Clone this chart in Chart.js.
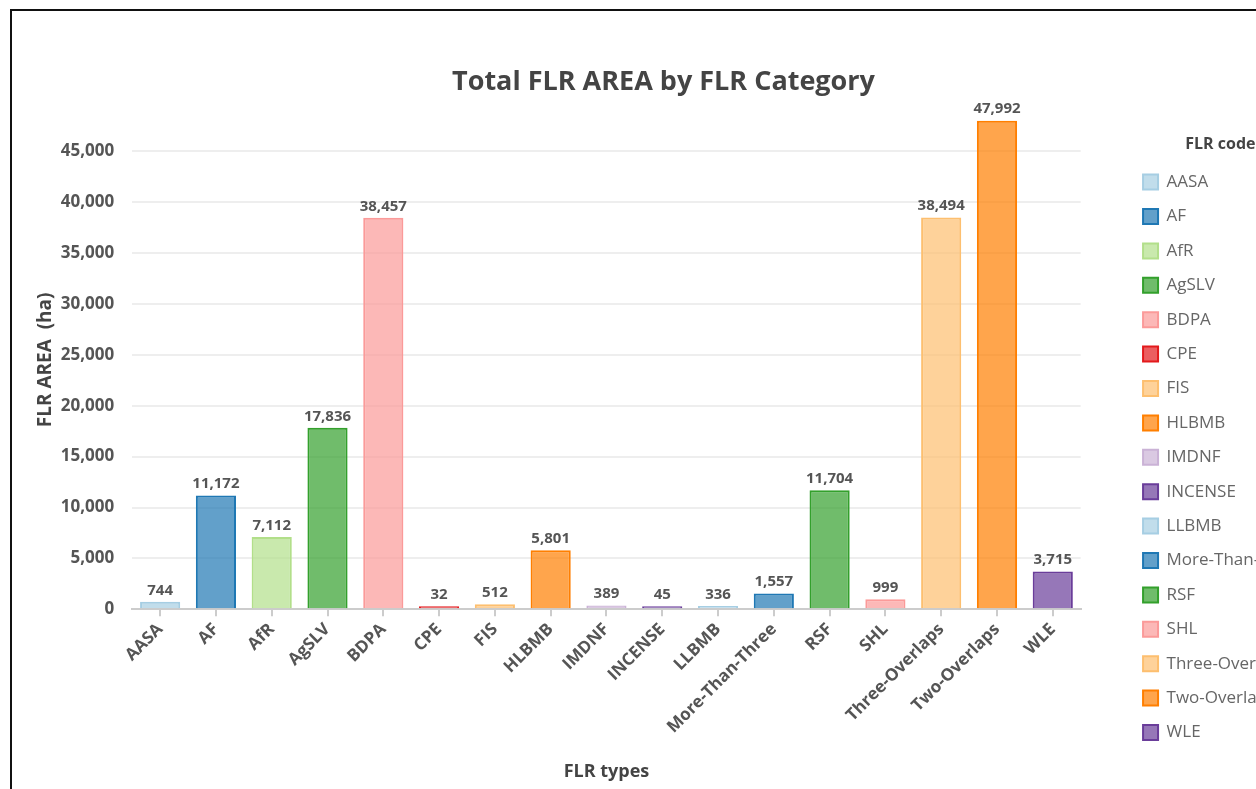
<!DOCTYPE html>
<html>
<head>
<meta charset="utf-8">
<script src="https://cdn.jsdelivr.net/npm/chart.js@4.4.1/dist/chart.umd.min.js"></script>
<style>
  html, body { margin: 0; padding: 0; background: #fff; overflow: hidden; }
  #frame { position: absolute; left: 10px; top: 9px; border: 2px solid #111; width: 1303px; height: 810px; }
  #frame canvas { display: block; }
</style>
</head>
<body>
<div id="frame"><canvas id="flrChart" width="1303" height="776"></canvas></div>
<script>
const categorias = ['AASA', 'AF', 'AfR', 'AgSLV', 'BDPA', 'CPE', 'FIS', 'HLBMB', 'IMDNF', 'INCENSE',
    'LLBMB', 'More-Than-Three', 'RSF', 'SHL', 'Three-Overlaps', 'Two-Overlaps', 'WLE'];
const areas = [744, 11172, 7112, 17836, 38457, 32, 512, 5801, 389, 45,
    336, 1557, 11704, 999, 38494, 47992, 3715];
const colores = ['#a6cee3', '#1f78b4', '#b2df8a', '#33a02c', '#fb9a99', '#e31a1c', '#fdbf6f', '#ff7f00', '#cab2d6', '#6a3d9a',
    '#a6cee3', '#1f78b4', '#33a02c', '#fb9a99', '#fdbf6f', '#ff7f00', '#6a3d9a'];
const yTicks = [0, 5000, 10000, 15000, 20000, 25000, 30000, 35000, 40000, 45000];

function alpha(hex, a) {
    const n = parseInt(hex.slice(1), 16);
    return 'rgba(' + (n >> 16) + ',' + ((n >> 8) & 255) + ',' + (n & 255) + ',' + a + ')';
}

Chart.defaults.font.family = "'Open Sans', sans-serif";

// numbers above each bar
const valueLabels = {
    id: 'valueLabels',
    afterDatasetsDraw(chart) {
        const ctx = chart.ctx;
        const meta = chart.getDatasetMeta(0);
        ctx.save();
        ctx.font = "bold 15px 'Open Sans'";
        ctx.fillStyle = '#555';
        ctx.textAlign = 'center';
        ctx.textBaseline = 'bottom';
        meta.data.forEach(function(bar, i) {
            ctx.fillText(areas[i].toLocaleString('en-US'), bar.x, bar.y - 4);
        });
        ctx.restore();
    }
};

const ctx = document.getElementById('flrChart').getContext('2d');

const data = {
    labels: categorias,
    datasets: [{
        label: 'FLR AREA',
        data: areas,
        backgroundColor: colores.map(c => alpha(c, 0.7)),
        borderColor: colores,
        borderWidth: 2,
        minBarLength: 3,
    }],
};

const config = {
    type: 'bar',
    data: data,
    plugins: [valueLabels],
    options: {
        responsive: false,
        animation: false,
        layout: { padding: { left: 0, top: 40, right: 0, bottom: 0 } },
        plugins: {
            title: {
                display: true,
                text: 'Total FLR AREA by FLR Category',
                color: '#444',
                font: { size: 27, weight: 'bold' },
                padding: { top: 15, bottom: 12 },
            },
            legend: {
                position: 'right',
                align: 'start',
                title: {
                    display: true,
                    text: 'FLR code',
                    color: '#444',
                    font: { size: 16, weight: 'bold' },
                    padding: { top: 85, bottom: 1 },
                },
                labels: {
                    color: '#666',
                    font: { size: 17 },
                    boxWidth: 15,
                    boxHeight: 15,
                    padding: 17.4,
                    generateLabels: function(chart) {
                        return categorias.map(function(cat, i) {
                            return {
                                text: cat,
                                fillStyle: alpha(colores[i], 0.7),
                                strokeStyle: colores[i],
                                lineWidth: 2,
                                fontColor: '#666',
                                hidden: false,
                                index: i,
                            };
                        });
                    },
                },
            },
            tooltip: { enabled: false },
        },
        scales: {
            x: {
                title: { display: true, text: 'FLR types', color: '#444', font: { size: 18, weight: 'bold' }, padding: { top: 21 } },
                ticks: { color: '#555', font: { size: 17, weight: 'bold' }, minRotation: 45, maxRotation: 45, autoSkip: false },
                grid: { display: true, drawOnChartArea: false, offset: false, tickLength: 7, color: '#ccc', lineWidth: 2 },
                border: { display: true, color: '#ccc', width: 2 },
            },
            y: {
                min: 0,
                max: 49000,
                afterBuildTicks: function(axis) {
                    axis.ticks = yTicks.map(v => ({ value: v }));
                },
                title: {
                    display: true,
                    text: 'FLR AREA  (ha)',
                    color: '#444',
                    font: { size: 19, weight: 'bold' },
                    padding: { top: 22, bottom: -14 },
                },
                ticks: {
                    color: '#555',
                    font: { size: 17, weight: 'bold' },
                    padding: 18,
                    callback: v => v.toLocaleString('en-US'),
                },
                grid: { color: '#eee', lineWidth: 2, drawTicks: false },
                border: { display: false },
            },
            pad: {
                type: 'linear',
                position: 'right',
                display: true,
                grid: { display: false },
                border: { display: false },
                ticks: { display: false },
                afterFit: function(axis) { axis.width = 45; },
            },
        },
    },
};

const flrChart = new Chart(ctx, config);
</script>
</body>
</html>
